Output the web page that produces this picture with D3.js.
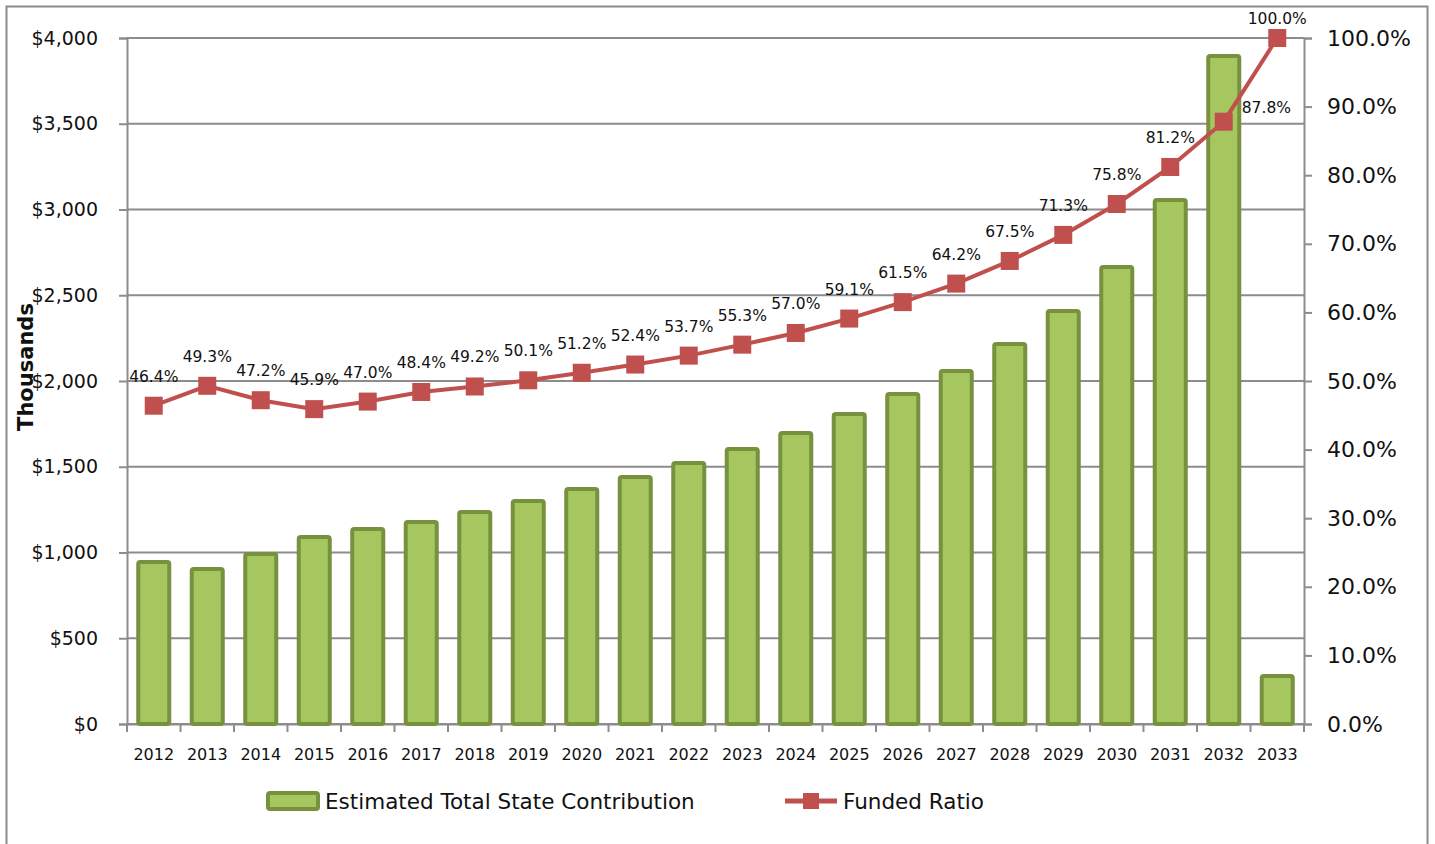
<!DOCTYPE html>
<html>
<head>
<meta charset="utf-8">
<script src="https://cdn.jsdelivr.net/npm/d3@7"></script>
<style>
  body { margin: 0; background: #fff; }
  svg { font-family: "DejaVu Sans", Verdana, sans-serif; }
</style>
</head>
<body>
<div id="chart"></div>
<script>
const years = ["2012","2013","2014","2015","2016","2017","2018","2019","2020","2021","2022","2023","2024","2025","2026","2027","2028","2029","2030","2031","2032","2033"];
const contribution = [945, 904, 991, 1090, 1137, 1178, 1236, 1300, 1370, 1440, 1522, 1603, 1697, 1808, 1924, 2058, 2216, 2408, 2665, 3055, 3895, 280];
const fundedRatio = [46.4, 49.3, 47.2, 45.9, 47.0, 48.4, 49.2, 50.1, 51.2, 52.4, 53.7, 55.3, 57.0, 59.1, 61.5, 64.2, 67.5, 71.3, 75.8, 81.2, 87.8, 100.0];
const leftTicks = [0, 500, 1000, 1500, 2000, 2500, 3000, 3500, 4000];
const rightTicks = [0, 10, 20, 30, 40, 50, 60, 70, 80, 90, 100];

const W = 1435, H = 844;
const margin = { top: 38, right: 131, bottom: 120, left: 127 };
const width = W - margin.left - margin.right;
const height = H - margin.top - margin.bottom;

const svg = d3.select("#chart").append("svg")
    .attr("width", W)
    .attr("height", H);

// outer frame
svg.append("rect")
    .attr("x", 6.5).attr("y", 6.5)
    .attr("width", 1421).attr("height", 860)
    .attr("fill", "none")
    .attr("stroke", "#8c8c8c")
    .attr("stroke-width", 2);

const g = svg.append("g")
    .attr("transform", `translate(${margin.left},${margin.top})`);

const x = d3.scaleBand()
    .domain(years)
    .range([0, width])
    .paddingInner(0.42)
    .paddingOuter(0.21);

const y = d3.scaleLinear().domain([0, 4000]).range([height, 0]);
const y2 = d3.scaleLinear().domain([0, 100]).range([height, 0]);

// gridlines
g.append("g")
    .selectAll("line")
    .data(leftTicks)
    .enter().append("line")
    .attr("x1", 0).attr("x2", width)
    .attr("y1", d => y(d)).attr("y2", d => y(d))
    .attr("stroke", "#8c8c8c")
    .attr("stroke-width", 2);

// left axis
const yAxis = g.append("g")
    .call(d3.axisLeft(y).tickValues(leftTicks).tickSize(8).tickPadding(21)
        .tickFormat(d => "$" + d3.format(",")(d)));
yAxis.select(".domain").attr("stroke", "#8c8c8c").attr("stroke-width", 2);
yAxis.selectAll(".tick line").attr("stroke", "#8c8c8c").attr("stroke-width", 2);
yAxis.selectAll("text").attr("font-size", 19).attr("fill", "#111")
    .attr("font-family", "DejaVu Sans, Verdana, sans-serif");

// right axis
const y2Axis = g.append("g")
    .attr("transform", `translate(${width},0)`)
    .call(d3.axisRight(y2).tickValues(rightTicks).tickSize(8).tickPadding(15)
        .tickFormat(d => d3.format(".1f")(d) + "%"));
y2Axis.select(".domain").attr("stroke", "#8c8c8c").attr("stroke-width", 2);
y2Axis.selectAll(".tick line").attr("stroke", "#8c8c8c").attr("stroke-width", 2);
y2Axis.selectAll("text").attr("font-size", 22).attr("fill", "#111")
    .attr("font-family", "DejaVu Sans, Verdana, sans-serif");

// x axis
const xAxis = g.append("g")
    .attr("transform", `translate(0,${height})`)
    .call(d3.axisBottom(x).tickSize(0).tickPadding(25));
xAxis.select(".domain").attr("stroke", "#8c8c8c").attr("stroke-width", 2);
xAxis.selectAll("text").attr("font-size", 16).attr("fill", "#111")
    .attr("font-family", "DejaVu Sans, Verdana, sans-serif");
const step = x.step();
g.append("g")
    .selectAll("line")
    .data(d3.range(years.length + 1))
    .enter().append("line")
    .attr("x1", i => i * step).attr("x2", i => i * step)
    .attr("y1", height).attr("y2", height + 8)
    .attr("stroke", "#8c8c8c")
    .attr("stroke-width", 2);

// bars
g.selectAll(".bar")
    .data(contribution)
    .enter().append("rect")
    .attr("class", "bar")
    .attr("x", (d, i) => x(years[i]))
    .attr("y", d => y(d))
    .attr("width", x.bandwidth())
    .attr("height", d => height - y(d))
    .attr("rx", 2)
    .attr("fill", "#a6c660")
    .attr("stroke", "#77913f")
    .attr("stroke-width", 4);

// line
const cx = (d, i) => x(years[i]) + x.bandwidth() / 2;
g.append("path")
    .datum(fundedRatio)
    .attr("fill", "none")
    .attr("stroke", "#c0504d")
    .attr("stroke-width", 4)
    .attr("d", d3.line().x(cx).y(d => y2(d)));

g.selectAll(".marker")
    .data(fundedRatio)
    .enter().append("rect")
    .attr("class", "marker")
    .attr("x", (d, i) => cx(d, i) - 9)
    .attr("y", d => y2(d) - 9)
    .attr("width", 18).attr("height", 18)
    .attr("fill", "#c0504d");

// data labels
const last = fundedRatio.length - 1;
g.selectAll(".lbl")
    .data(fundedRatio)
    .enter().append("text")
    .attr("class", "lbl")
    .attr("x", (d, i) => i === last - 1 ? cx(d, i) + 18 : cx(d, i))
    .attr("y", (d, i) => i === last - 1 ? y2(d) - 9 : i === last ? y2(d) - 14 : y2(d) - 24)
    .attr("text-anchor", (d, i) => i === last - 1 ? "start" : "middle")
    .attr("font-size", 15.5)
    .attr("fill", "#111")
    .text(d => d3.format(".1f")(d) + "%");

// y-axis title
svg.append("text")
    .attr("transform", "translate(33,367) rotate(-90)")
    .attr("text-anchor", "middle")
    .attr("font-size", 21)
    .attr("font-weight", "bold")
    .attr("fill", "#111")
    .text("Thousands");

// legend
const leg = svg.append("g").attr("transform", "translate(0,801)");
leg.append("rect")
    .attr("x", 268).attr("y", -8)
    .attr("width", 50).attr("height", 16)
    .attr("rx", 2)
    .attr("fill", "#a6c660")
    .attr("stroke", "#77913f")
    .attr("stroke-width", 4);
leg.append("text")
    .attr("x", 325).attr("y", 8)
    .attr("font-size", 21.5)
    .attr("fill", "#111")
    .text("Estimated Total State Contribution");
leg.append("line")
    .attr("x1", 785).attr("x2", 837)
    .attr("y1", 0).attr("y2", 0)
    .attr("stroke", "#c0504d").attr("stroke-width", 5);
leg.append("rect")
    .attr("x", 803).attr("y", -8)
    .attr("width", 16).attr("height", 16)
    .attr("fill", "#c0504d");
leg.append("text")
    .attr("x", 843).attr("y", 8)
    .attr("font-size", 21.5)
    .attr("fill", "#111")
    .text("Funded Ratio");
</script>
</body>
</html>
